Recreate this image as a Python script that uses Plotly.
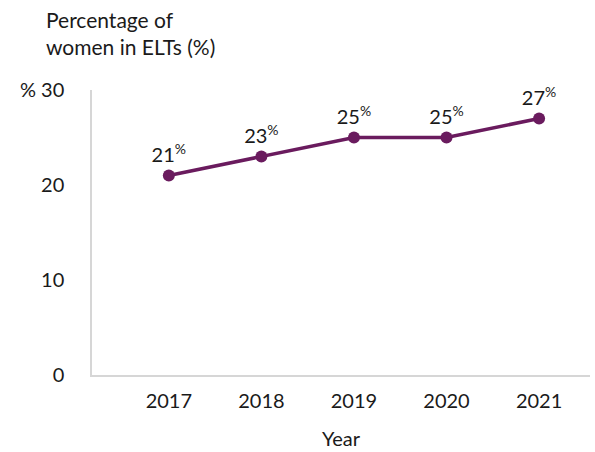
import plotly.graph_objects as go

years = [2017, 2018, 2019, 2020, 2021]
women_pct = [21, 23, 25, 25, 27]
y_tick_vals = [0, 10, 20, 30]
y_tick_text = ["0", "10", "20", "% 30"]

line_color = "#6a1b5e"
axis_color = "#d6d6d6"
text_color = "#1a1a1a"
font_family = "Lato, 'Open Sans', sans-serif"

fig = go.Figure()
fig.add_trace(go.Scatter(
    x=years,
    y=women_pct,
    mode="lines+markers+text",
    line=dict(color=line_color, width=3.5),
    marker=dict(color=line_color, size=12),
    text=[f"{v}<sup>%</sup>" for v in women_pct],
    textposition="top center",
    textfont=dict(size=20, color=text_color, family=font_family),
    cliponaxis=False,
    hoverinfo="skip",
))

fig.update_layout(
    width=595,
    height=452,
    margin=dict(l=92, r=5, t=90, b=75),
    paper_bgcolor="white",
    plot_bgcolor="white",
    showlegend=False,
    font=dict(family=font_family, color=text_color, size=20),
    xaxis=dict(
        range=[2016.17, 2021.55],
        tickvals=years,
        ticktext=[str(y) for y in years],
        showgrid=False,
        zeroline=False,
        showline=True,
        linecolor=axis_color,
        linewidth=1.5,
        ticks="",
        ticklabelstandoff=7,
        tickfont=dict(size=20),
        title=dict(text="Year", font=dict(size=20), standoff=21),
    ),
    yaxis=dict(
        range=[0, 30],
        tickvals=y_tick_vals,
        ticktext=y_tick_text,
        showgrid=False,
        zeroline=False,
        showline=True,
        linecolor=axis_color,
        linewidth=1.5,
        ticks="",
        ticklabelstandoff=22,
        tickfont=dict(size=20),
    ),
    annotations=[dict(
        text="Percentage of<br>women in ELTs (%)",
        xref="paper", yref="paper",
        x=-0.097, y=1.0,
        xanchor="left", yanchor="bottom",
        yshift=29,
        align="left",
        showarrow=False,
        font=dict(size=21, color=text_color),
    )],
)

fig.write_html("out.html")
